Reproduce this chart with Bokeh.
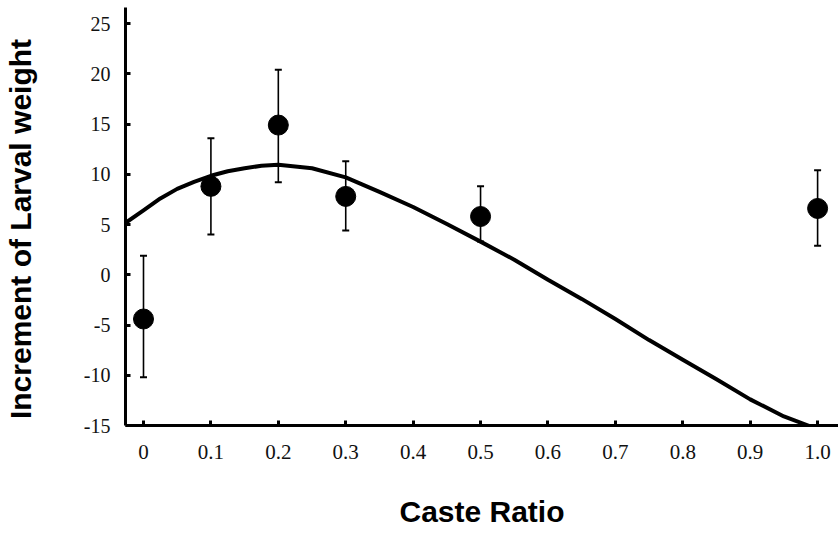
from bokeh.plotting import figure
from bokeh.models import Whisker, ColumnDataSource, TeeHead, FixedTicker
from bokeh.embed import file_html
from bokeh.resources import INLINE

# ---- data ----
ratio = [0.0, 0.1, 0.2, 0.3, 0.5, 1.0]
mean_inc = [-4.4, 8.8, 14.9, 7.8, 5.8, 6.6]
err_upper = [1.9, 13.6, 20.4, 11.3, 8.8, 10.4]
err_lower = [-10.2, 4.0, 9.2, 4.4, 3.3, 2.9]

curve_x = [-0.026, 0.0, 0.025, 0.05, 0.075, 0.1, 0.125, 0.15, 0.175, 0.2, 0.25, 0.3,
           0.35, 0.4, 0.45, 0.5, 0.55, 0.6, 0.65, 0.7, 0.75, 0.8, 0.85, 0.9, 0.95, 0.99]
curve_y = [5.2, 6.4, 7.6, 8.55, 9.25, 9.85, 10.3, 10.6, 10.85, 10.95, 10.6, 9.7,
           8.25, 6.75, 5.05, 3.3, 1.5, -0.5, -2.4, -4.4, -6.5, -8.45, -10.4, -12.4, -14.1, -15.1]

x_ticks = [0, 0.1, 0.2, 0.3, 0.4, 0.5, 0.6, 0.7, 0.8, 0.9, 1.0]
x_tick_labels = ["0", "0.1", "0.2", "0.3", "0.4", "0.5", "0.6", "0.7", "0.8", "0.9", "1.0"]
y_ticks = [-15, -10, -5, 0, 5, 10, 15, 20, 25]
y_tick_labels = ["-15", "-10", "-5", "0", "5", "10", "15", "20", "25"]

x_title = "Caste Ratio"
y_title = "Increment of Larval weight"

p = figure(width=838, height=534, output_backend="svg", toolbar_location=None,
           x_range=(-0.0267, 1.031), y_range=(-15.0, 26.6),
           min_border_left=125, min_border_right=0, min_border_top=7, min_border_bottom=109)
p.outline_line_color = None
p.grid.visible = False
p.background_fill_color = "white"

# curve
p.line(curve_x, curve_y, line_color="black", line_width=4, line_join="round")

# error bars
src = ColumnDataSource(dict(x=ratio, y=mean_inc, up=err_upper, lo=err_lower))
wh = Whisker(base="x", upper="up", lower="lo", source=src, line_color="black", line_width=1.6,
             upper_head=TeeHead(size=7, line_width=2, line_color="black"),
             lower_head=TeeHead(size=7, line_width=2, line_color="black"))
p.add_layout(wh)

# points
p.scatter("x", "y", source=src, size=20, fill_color="black", line_color="black")

# axes
for ax in (p.xaxis[0], p.yaxis[0]):
    ax.axis_line_width = 3
    ax.axis_line_color = "black"
    ax.major_tick_line_width = 3
    ax.major_tick_line_color = "black"
    ax.major_tick_in = 5
    ax.major_tick_out = 0
    ax.minor_tick_line_color = None
    ax.major_label_text_font = "Liberation Serif"
    ax.major_label_text_color = "#111111"
    ax.axis_label_text_font = "Liberation Sans"
    ax.axis_label_text_font_style = "bold"
    ax.axis_label_text_font_size = "30px"
    ax.axis_label_text_color = "black"

p.xaxis.ticker = FixedTicker(ticks=x_ticks)
p.xaxis.major_label_overrides = {t: l for t, l in zip(x_ticks, x_tick_labels)}
p.xaxis.major_label_text_font_size = "21px"
p.xaxis.major_label_standoff = 19
p.xaxis.axis_label = x_title
p.xaxis.axis_label_standoff = 33

p.yaxis.ticker = FixedTicker(ticks=y_ticks)
p.yaxis.major_label_overrides = {t: l for t, l in zip(y_ticks, y_tick_labels)}
p.yaxis.major_label_text_font_size = "20px"
p.yaxis.major_label_standoff = 15
p.yaxis.axis_label = y_title + "\u00a0\u00a0\u00a0"
p.yaxis.axis_label_standoff = 44

open("out.html", "w").write(file_html(p, INLINE))
